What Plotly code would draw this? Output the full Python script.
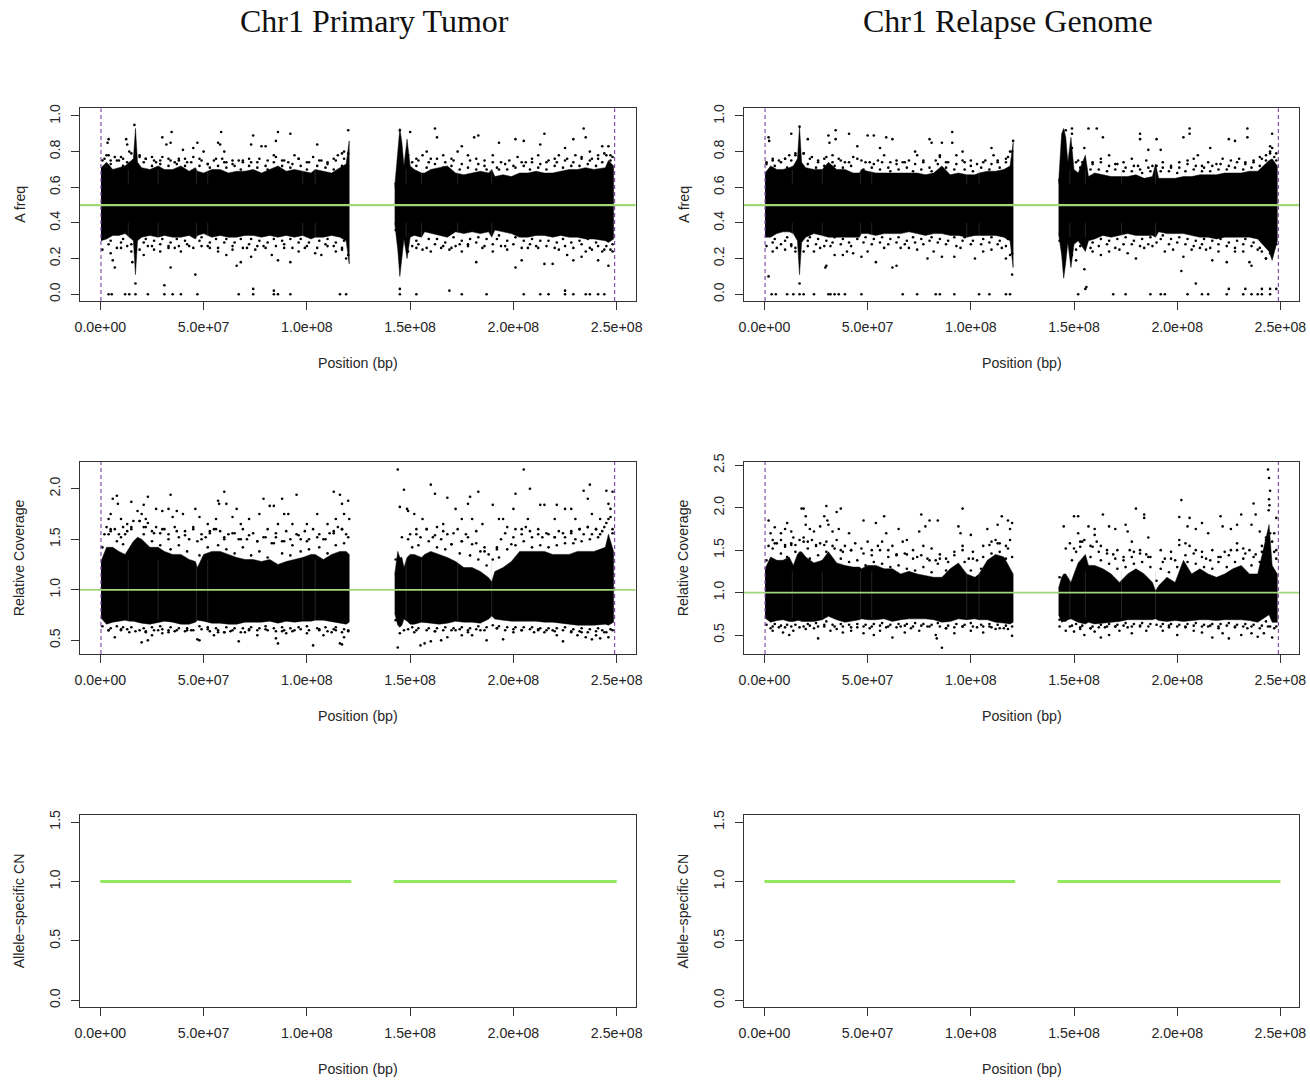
import plotly.graph_objects as go

W, H = 1310, 1081
POS1 = [0.3,3,6,9,12,14,16,17,18,20,24,28,31,35,39,43,46,47,50,54,58,62,66,70,74,78,82,86,90,94,98,102,104,108,112,116,119,120.5]
POS2 = [142.5,144,145,146,147,148.5,150,152,155.5,157,160,164,168,172,176,180,184,188,189.5,191,195,199,203,207,211,215,219,223,227,231,235,239,244.5,246,248.5]
POS = POS1 + POS2
N1 = len(POS1)

# edge of the black band at each POS (Mb)
afreq_tumor_hi = [.71,.74,.70,.71,.72,.74,.76,.93,.74,.71,.70,.72,.70,.70,.72,.69,.71,.69,.68,.70,.70,.68,.69,.69,.70,.68,.70,.72,.69,.70,.69,.68,.70,.69,.68,.71,.73,.86,
                  .60,.82,.93,.85,.72,.87,.72,.70,.68,.68,.70,.71,.72,.68,.67,.68,.69,.68,.70,.66,.67,.66,.68,.68,.69,.68,.68,.69,.70,.70,.71,.70,.71,.75,.72]
afreq_tumor_lo = [.30,.31,.33,.33,.34,.32,.30,.11,.30,.32,.33,.32,.33,.32,.32,.33,.31,.33,.34,.32,.33,.32,.32,.33,.33,.32,.33,.32,.33,.32,.33,.31,.32,.32,.33,.32,.30,.17,
                  .40,.25,.10,.22,.31,.20,.32,.33,.32,.35,.34,.33,.32,.35,.34,.35,.34,.35,.32,.36,.35,.34,.32,.32,.33,.33,.32,.33,.32,.32,.31,.31,.30,.29,.31]
afreq_relapse_hi = [.68,.72,.70,.70,.71,.72,.76,.94,.74,.71,.70,.70,.74,.70,.70,.68,.68,.70,.69,.68,.68,.68,.68,.68,.68,.67,.68,.72,.67,.68,.67,.67,.68,.69,.69,.70,.72,.85,
                    .62,.90,.93,.88,.74,.88,.70,.68,.78,.66,.68,.67,.66,.66,.66,.67,.65,.66,.73,.65,.65,.65,.66,.66,.67,.67,.67,.68,.68,.68,.69,.69,.75,.76,.72]
afreq_relapse_lo = [.32,.32,.34,.35,.35,.34,.30,.11,.29,.32,.34,.33,.32,.32,.32,.32,.32,.34,.34,.33,.34,.34,.34,.35,.34,.33,.34,.34,.33,.33,.32,.33,.33,.33,.33,.32,.30,.15,
                    .34,.22,.09,.18,.29,.15,.28,.30,.24,.30,.31,.33,.32,.33,.34,.33,.33,.33,.32,.35,.34,.34,.34,.33,.32,.32,.31,.32,.32,.32,.32,.31,.24,.19,.30]
cov_tumor_hi = [1.28,1.42,1.42,1.38,1.35,1.42,1.48,1.50,1.52,1.50,1.42,1.42,1.38,1.35,1.35,1.30,1.28,1.22,1.35,1.38,1.38,1.35,1.32,1.30,1.30,1.28,1.30,1.25,1.28,1.30,1.32,1.35,1.35,1.30,1.35,1.38,1.38,1.35,
                1.15,1.38,1.32,1.32,1.22,1.32,1.35,1.35,1.32,1.35,1.38,1.35,1.32,1.28,1.22,1.22,1.18,1.12,1.08,1.18,1.22,1.28,1.38,1.38,1.38,1.38,1.35,1.35,1.35,1.38,1.38,1.38,1.42,1.55,1.38]
cov_tumor_lo = [.72,.66,.68,.69,.70,.69,.69,.69,.68,.67,.66,.68,.69,.68,.66,.66,.68,.70,.69,.67,.67,.66,.66,.68,.68,.68,.69,.67,.69,.68,.69,.69,.70,.70,.68,.67,.66,.68,
                .77,.65,.63,.65,.71,.69,.66,.66,.68,.68,.67,.66,.67,.69,.68,.68,.67,.71,.74,.71,.70,.69,.69,.69,.69,.68,.68,.67,.66,.65,.65,.65,.66,.65,.68]
cov_relapse_hi = [1.28,1.42,1.38,1.38,1.42,1.32,1.45,1.48,1.48,1.42,1.35,1.38,1.48,1.35,1.32,1.30,1.30,1.28,1.32,1.32,1.28,1.28,1.22,1.25,1.22,1.20,1.18,1.18,1.28,1.35,1.22,1.18,1.22,1.38,1.45,1.42,1.28,1.22,
                  1.05,1.18,1.22,1.22,1.18,1.12,1.22,1.35,1.45,1.32,1.32,1.28,1.22,1.12,1.22,1.28,1.22,1.12,1.02,1.08,1.18,1.12,1.38,1.22,1.28,1.22,1.18,1.22,1.28,1.32,1.22,1.22,1.80,1.32,1.22]
cov_relapse_lo = [.70,.65,.67,.68,.66,.66,.67,.67,.66,.66,.66,.68,.72,.68,.65,.67,.68,.69,.68,.68,.69,.66,.68,.69,.69,.69,.68,.65,.66,.69,.68,.69,.68,.68,.65,.64,.63,.65,
                  .74,.65,.66,.66,.68,.69,.67,.65,.63,.65,.63,.64,.65,.66,.68,.68,.68,.68,.69,.67,.66,.67,.66,.67,.68,.68,.67,.68,.68,.68,.67,.65,.74,.65,.65]

# pale vertical streaks in the band (Mb)
streak_pos = [13.5,28,46.5,52,98,104,148,155.5,173,189.5]

# speckle just outside the band: shared positions (Mb), then values read per panel
EDGE_X = [1,4,5,8,10,11,13,15,19,21,22,25,26,29,30,33,34,37,38,41,42,45,48,49,52,53,56,57,60,61,64,65,68,69,72,73,76,77,80,81,84,85,88,89,92,93,96,97,100,101,105,106,109,110,113,114,117,118,120,
          143,149,151,153,154,158,159,162,163,166,167,170,171,174,175,178,179,182,183,186,187,190,192,193,196,197,200,201,204,205,208,209,212,213,216,217,220,221,224,225,228,229,232,233,236,237,240,241,243,245,247,248]
afreq_tumor_edge_hi = [.75,.78,.73,.75,.77,.72,.74,.79,.77,.74,.76,.72,.75,.73,.77,.72,.75,.73,.76,.72,.74,.77,.72,.75,.73,.71,.76,.72,.74,.71,.75,.72,.70,.75,.72,.74,.71,.76,.72,.70,.74,.77,.72,.75,.71,.73,.76,.72,.70,.74,.72,.75,.71,.73,.70,.75,.72,.76,.79,
                       .62,.78,.74,.72,.75,.71,.74,.73,.76,.71,.74,.72,.75,.70,.73,.71,.75,.70,.73,.72,.70,.74,.71,.70,.73,.70,.72,.71,.74,.72,.70,.74,.71,.73,.70,.75,.72,.74,.71,.75,.72,.74,.72,.76,.73,.75,.72,.76,.74,.78,.75,.77]
afreq_tumor_edge_lo = [.25,.28,.30,.26,.29,.31,.27,.28,.25,.29,.31,.27,.30,.28,.31,.26,.29,.31,.27,.30,.28,.26,.30,.32,.27,.29,.31,.26,.29,.31,.27,.29,.31,.26,.28,.31,.27,.30,.26,.29,.31,.27,.30,.28,.31,.26,.29,.31,.27,.29,.26,.30,.28,.31,.27,.29,.26,.30,.22,
                       .36,.24,.27,.30,.28,.26,.31,.28,.31,.27,.29,.26,.32,.28,.30,.27,.31,.29,.32,.27,.31,.28,.31,.33,.27,.30,.28,.32,.26,.30,.28,.31,.26,.30,.27,.30,.26,.29,.31,.27,.29,.26,.30,.28,.31,.26,.29,.27,.24,.27,.25,.28]
afreq_relapse_edge_hi = [.73,.75,.72,.74,.76,.71,.75,.78,.79,.73,.76,.71,.74,.72,.77,.74,.72,.75,.71,.74,.72,.76,.70,.74,.71,.73,.70,.74,.71,.69,.73,.70,.74,.71,.69,.73,.70,.75,.71,.69,.73,.77,.71,.74,.70,.73,.75,.70,.72,.69,.71,.74,.70,.73,.75,.71,.74,.77,.80,
                         .64,.82,.74,.71,.74,.70,.73,.70,.74,.69,.72,.70,.73,.69,.71,.69,.72,.70,.68,.71,.69,.72,.69,.71,.69,.71,.68,.71,.69,.73,.70,.72,.69,.71,.69,.72,.70,.73,.70,.72,.71,.74,.70,.73,.71,.74,.72,.76,.75,.79,.77,.75]
afreq_relapse_edge_lo = [.27,.29,.31,.28,.30,.32,.28,.26,.24,.30,.32,.28,.31,.27,.30,.29,.32,.28,.31,.29,.27,.31,.29,.32,.28,.31,.29,.32,.28,.31,.29,.32,.28,.30,.32,.29,.31,.28,.30,.32,.29,.31,.28,.30,.32,.27,.30,.32,.28,.30,.28,.31,.29,.32,.28,.30,.27,.31,.23,
                         .30,.22,.25,.27,.29,.26,.29,.27,.31,.28,.30,.26,.31,.28,.32,.28,.30,.27,.31,.28,.32,.29,.31,.33,.28,.31,.29,.32,.28,.31,.27,.30,.28,.31,.26,.30,.28,.31,.27,.29,.26,.30,.28,.31,.27,.29,.26,.24,.20,.23,.26,.28]
cov_tumor_edge_hi = [1.42,1.55,1.60,1.48,1.52,1.45,1.58,1.62,1.68,1.55,1.62,1.48,1.56,1.44,1.60,1.50,1.40,1.58,1.44,1.54,1.38,1.60,1.34,1.50,1.42,1.56,1.60,1.44,1.52,1.40,1.56,1.36,1.50,1.42,1.54,1.34,1.48,1.38,1.52,1.32,1.46,1.56,1.36,1.48,1.34,1.44,1.54,1.38,1.48,1.40,1.52,1.42,1.50,1.36,1.56,1.44,1.60,1.46,1.52,
                     1.30,1.50,1.42,1.55,1.44,1.60,1.48,1.54,1.42,1.58,1.40,1.45,1.56,1.36,1.48,1.52,1.34,1.46,1.30,1.38,1.24,1.30,1.42,1.32,1.56,1.40,1.52,1.44,1.60,1.48,1.58,1.42,1.55,1.44,1.56,1.42,1.52,1.44,1.56,1.46,1.58,1.46,1.60,1.48,1.62,1.50,1.60,1.52,1.58,1.66,1.72,1.56]
cov_tumor_edge_lo = [.64,.60,.62,.64,.60,.63,.61,.63,.60,.62,.59,.63,.60,.64,.61,.58,.63,.60,.62,.59,.62,.60,.64,.61,.63,.59,.62,.60,.58,.63,.60,.62,.58,.62,.61,.63,.60,.62,.64,.60,.62,.59,.63,.60,.62,.59,.63,.61,.64,.60,.62,.60,.63,.59,.61,.63,.58,.61,.60,
                     .70,.61,.63,.60,.62,.60,.62,.59,.62,.60,.63,.60,.62,.61,.63,.60,.62,.61,.64,.60,.63,.65,.62,.64,.60,.63,.61,.63,.60,.63,.61,.63,.60,.62,.60,.62,.59,.62,.60,.63,.58,.61,.59,.62,.58,.61,.59,.62,.60,.58,.61,.60]
cov_relapse_edge_hi = [1.38,1.52,1.58,1.46,1.54,1.42,1.56,1.48,1.60,1.52,1.40,1.55,1.44,1.56,1.48,1.38,1.52,1.40,1.48,1.36,1.50,1.38,1.46,1.32,1.44,1.36,1.50,1.34,1.42,1.30,1.44,1.32,1.46,1.28,1.40,1.26,1.44,1.30,1.38,1.24,1.34,1.40,1.26,1.36,1.44,1.30,1.50,1.36,1.26,1.40,1.28,1.42,1.56,1.46,1.58,1.48,1.40,1.52,1.42,
                       1.18,1.38,1.48,1.54,1.60,1.42,1.54,1.48,1.38,1.46,1.34,1.40,1.28,1.38,1.30,1.42,1.34,1.46,1.36,1.42,1.30,1.14,1.28,1.36,1.24,1.40,1.30,1.56,1.44,1.36,1.46,1.34,1.42,1.30,1.38,1.28,1.36,1.42,1.30,1.44,1.36,1.50,1.40,1.46,1.32,1.42,1.36,1.48,1.62,1.70,1.48,1.40]
cov_relapse_edge_lo = [.62,.60,.63,.61,.59,.62,.60,.62,.60,.63,.61,.64,.60,.62,.66,.62,.60,.63,.60,.62,.59,.63,.60,.62,.60,.63,.61,.64,.60,.62,.59,.63,.61,.63,.60,.64,.61,.63,.60,.62,.64,.60,.58,.61,.59,.63,.60,.62,.64,.60,.62,.60,.63,.59,.62,.58,.61,.57,.60,
                       .68,.61,.63,.59,.61,.58,.60,.59,.62,.60,.63,.60,.62,.61,.64,.60,.63,.61,.64,.60,.63,.62,.60,.63,.61,.63,.60,.62,.60,.63,.61,.64,.60,.62,.61,.63,.60,.63,.61,.64,.60,.62,.60,.63,.60,.62,.58,.61,.66,.60,.58,.60]

# individually visible points (Mb, value)
afreq_tumor_dots = [(3,.78),(3.5,.85),(4,.87),(12.5,.87),(13,.84),(14,.80),(16.5,.95),(30,.88),(32,.84),(34,.85),(34.5,.91),(40,.81),(45,.82),(47,.85),(50,.80),(57,.85),(58,.84),(58.5,.91),(60,.80),(74,.89),(73,.84),(78,.83),(80,.83),(85,.86),(86,.91),(92,.90),(94,.78),(105,.84),(120,.92),(118,.80),(145,.92),(150,.91),(162,.93),(163,.88),(158,.80),(175,.83),(183,.89),(181,.88),(193,.85),(201,.87),(205,.86),(213,.84),(215,.90),(225,.82),(229,.87),(234,.93),(235,.88),(237,.80),(243,.83),(246,.83),
(2,.76),(5,.75),(7,.77),(9,.75),(11,.76),(19,.78),(22,.76),(25,.77),(27,.74),(29,.75),(33,.76),(36,.74),(38,.75),(41,.76),(44,.74),(48,.76),(52,.73),(55,.75),(59,.76),(61,.74),(64,.73),(67,.75),(69,.74),(72,.76),(76,.74),(81,.75),(84,.78),(88,.75),(91,.74),(96,.76),(100,.74),(103,.77),(107,.75),(110,.74),(113,.76),(115,.78),(117,.79),(153,.76),(156,.78),(160,.76),(166,.78),(170,.76),(173,.80),(178,.78),(182,.76),(186,.75),(190,.78),(194,.74),(198,.75),(202,.77),(206,.74),(209,.76),(212,.78),(216,.74),(220,.76),(222,.78),(226,.76),(230,.78),(233,.77),(238,.76),(241,.78),(244,.79),(247,.78),
(5,.23),(6,.19),(7,.15),(10,.26),(15,.24),(15.5,.18),(21,.22),(23,.27),(26,.25),(29,.24),(33,.27),(34,.15),(36,.26),(39,.24),(43,.27),(46,.11),(49,.27),(53,.26),(57,.24),(61,.22),(64,.25),(66,.16),(68,.18),(71,.26),(73,.21),(75,.25),(79,.27),(83,.22),(86,.19),(89,.26),(92,.18),(96,.24),(99,.26),(104,.23),(107,.22),(110,.27),(114,.24),(117,.25),(119,.20),(153,.26),(156,.25),(160,.24),(165,.26),(169,.25),(172,.27),(175,.24),(178,.28),(182,.18),(185,.26),(190,.24),(194,.27),(197,.25),(201,.15),(204,.19),(207,.26),(211,.27),(215,.17),(219,.17),(222,.25),(226,.22),(229,.19),(233,.21),(235,.24),(238,.25),(241,.19),(244,.25),(246,.16),(248,.24),
(17,.06),(31,.05),(74,.03),(84,.02),(145,.03),(169,.02),(225,.02),
(4,0),(5.5,0),(12,0),(14,0),(17,0),(23,0),(31,0),(35,0),(39,0),(47,0),(67,0),(74,0),(84,0),(86,0),(92,0),(116,0),(119,0),(145,0),(153,0),(175,0),(187,0),(205,0),(213,0),(217,0),(225,0),(229,0),(235,0),(237,0),(241,0),(244,0)]

afreq_relapse_dots = [(2,.88),(2.3,.86),(13,.90),(17,.94),(21,.87),(31,.89),(31.5,.85),(34.5,.87),(34.5,.92),(41,.90),(45,.83),(50,.89),(53,.89),(59,.88),(62,.87),(56,.82),(73,.80),(80,.87),(81,.85),(86,.85),(91,.85),(91,.91),(96,.80),(110,.82),(120.5,.86),(146,.92),(149,.93),(149,.90),(157,.93),(161,.93),(164,.88),(182,.90),(182,.87),(186,.81),(190,.87),(192,.81),(203,.88),(206,.90),(206,.93),(210,.78),(216,.82),(225,.87),(228,.86),(234,.93),(234,.88),(245,.83),(246,.82),(245,.80),(246,.90),
(1,.74),(4,.76),(7,.75),(10,.76),(12,.78),(15,.79),(19,.79),(23,.77),(26,.75),(29,.76),(33,.78),(36,.76),(39,.74),(43,.77),(47,.75),(51,.74),(55,.75),(58,.78),(61,.74),(64,.75),(67,.74),(70,.75),(74,.78),(77,.74),(83,.75),(85,.78),(88,.74),(93,.78),(97,.74),(100,.75),(103,.73),(107,.75),(111,.78),(113,.74),(117,.76),(119,.80),(152,.75),(155,.82),(159,.74),(163,.76),(167,.78),(170,.73),(174,.74),(178,.76),(181,.72),(185,.75),(188,.72),(193,.74),(197,.72),(201,.74),(205,.75),(208,.76),(212,.72),(215,.74),(219,.73),(222,.76),(226,.75),(230,.76),(233,.74),(237,.75),(240,.77),(243,.78),(248,.79),
(2,.10),(4,.24),(6,.26),(10,.25),(13,.27),(15,.24),(17,.06),(21,.27),(24,.24),(27,.26),(29.5,.15),(30,.16),(32,.27),(34,.22),(38,.22),(40,.24),(43,.23),(47,.21),(50,.24),(54,.18),(58,.26),(62,.15),(64,.16),(66,.26),(70,.26),(74,.25),(79,.20),(82,.24),(86,.21),(92,.21),(95,.26),(102,.20),(106,.24),(110,.25),(115,.26),(117,.20),(119,.22),(120,.11),(151,.19),(155,.14),(156,.04),(155.5,.03),(159,.24),(163,.22),(167,.24),(172,.25),(176,.23),(180,.20),(184,.26),(188,.27),(194,.24),(198,.25),(202,.13),(203,.21),(207,.25),(211,.26),(214,.25),(217,.19),(220,.24),(224,.18),(228,.24),(232,.24),(235,.18),(236,.16),(239,.25),(243,.20),
(17,.0),(3.5,0),(5.5,0),(11,0),(14,0),(19,0),(24,0),(31,0),(32,0),(34,0),(36,0),(39,0),(47,0),(67,0),(74,0),(83,0),(85,0),(92,0),(104,0),(109,0),(117,0),(119,0),(152,0),(169,0),(175,0),(187,0),(192,0),(194,0),(205,0),(212,0),(215,0),(224,0),(232,0),(236,0),(239,0),(241,0),(245,0),(225,.03),(233,.03),(241,.03),(245,.03),(248,.03),(209,.06)]

cov_tumor_dots = [(4,1.70),(5,1.75),(6,1.90),(8,1.93),(8.5,1.85),(10,1.70),(15,1.87),(13,1.65),(18,1.78),(20,1.75),(21,1.84),(22,1.70),(23,1.92),(27,1.80),(30,1.78),(33,1.80),(34,1.94),(35,1.72),(37,1.78),(40,1.75),(46,1.80),(48,1.72),(52,1.65),(56,1.70),(57,1.88),(57.5,1.85),(60,1.97),(61,1.85),(64,1.72),(66,1.80),(68,1.65),(72,1.70),(79,1.90),(77,1.75),(82,1.83),(84,1.83),(86,1.65),(88,1.90),(89,1.75),(91,1.75),(95,1.94),(93,1.65),(100,1.65),(105,1.75),(103,1.60),(113,1.97),(116,1.94),(114,1.70),(117,1.85),(118,1.75),(120,1.88),(120.5,1.70),(110,1.65),
(144,2.19),(145,1.82),(147,1.99),(149,1.78),(148.5,1.80),(152,1.75),(156,1.70),(160,2.04),(162,1.95),(166,1.65),(168,1.91),(172,1.80),(175,1.70),(178,1.85),(180,1.70),(179,1.92),(183,1.97),(185,1.65),(190,1.84),(193,1.70),(195,1.70),(201,1.95),(200,1.80),(205,2.19),(208,2.00),(207,1.70),(213,1.84),(215,1.84),(220,1.70),(221,1.84),(225,1.80),(228,1.80),(230,1.70),(234,1.98),(236,1.90),(237,2.04),(238,1.75),(242,1.70),(245,1.98),(246,1.85),(248,1.97),(247,1.80),
(2,1.55),(3,1.62),(5,1.58),(7,1.60),(9,1.55),(11,1.62),(12,1.55),(15,1.60),(16,1.68),(19,1.68),(21,1.62),(23,1.66),(25,1.58),(27,1.62),(29,1.56),(31,1.60),(33,1.55),(36,1.62),(38,1.52),(41,1.58),(43,1.50),(45,1.62),(47,1.48),(49,1.55),(51,1.52),(53,1.58),(55,1.60),(58,1.58),(60,1.50),(62,1.55),(65,1.56),(67,1.50),(69,1.60),(71,1.50),(74,1.56),(76,1.48),(79,1.52),(81,1.60),(83,1.46),(85,1.52),(88,1.48),(90,1.58),(92,1.50),(95,1.55),(97,1.50),(99,1.58),(101,1.50),(106,1.55),(108,1.50),(111,1.56),(113,1.58),(115,1.62),(117,1.60),(119,1.55),
(146,1.52),(150,1.55),(153,1.60),(155,1.52),(158,1.60),(161,1.52),(163,1.62),(165,1.50),(168,1.55),(170,1.45),(173,1.60),(175,1.48),(177,1.55),(180,1.45),(182,1.58),(184,1.38),(186,1.42),(188,1.35),(192,1.40),(194,1.50),(197,1.62),(199,1.45),(201,1.60),(204,1.55),(206,1.62),(209,1.52),(212,1.60),(214,1.52),(217,1.55),(220,1.52),(222,1.58),(225,1.52),(228,1.56),(230,1.50),(232,1.60),(234,1.55),(236,1.62),(238,1.55),(240,1.60),(242,1.55),(244,1.62),(246,1.70),(248,1.60),
(7,.53),(14,.58),(20,.48),(23,.50),(25,.55),(33,.60),(42,.60),(47,.51),(48,.50),(55,.55),(60,.58),(67,.49),(70,.58),(76,.55),(86,.47),(85,.52),(90,.57),(103,.45),(100,.57),(108,.55),(116,.47),(117,.46),(118,.53),(112,.58),(144,.43),(145,.57),(155,.45),(157,.47),(160,.49),(165,.50),(168,.53),(175,.55),(180,.55),(187,.50),(195,.51),(200,.58),(210,.58),(215,.58),(224,.49),(221,.55),(231,.55),(235,.53),(238,.51),(242,.52),(246,.53),(240,.55),
(4,.60),(10,.61),(17,.59),(22,.58),(28,.60),(30,.57),(36,.59),(44,.60),(52,.61),(57,.58),(63,.59),(72,.60),(80,.61),(88,.59),(94,.60),(106,.61),(114,.60),(120,.59),(147,.60),(152,.58),(162,.59),(172,.60),(178,.58),(184,.60),(192,.62),(204,.60),(212,.61),(219,.60),(228,.59),(233,.58),(244,.58)]

cov_relapse_dots = [(2,1.85),(3,1.70),(5,1.77),(8,1.70),(10,1.75),(11,1.82),(13,1.72),(14,1.65),(18,1.99),(19,1.99),(20,1.90),(20,1.80),(22,1.75),(24,1.72),(27,1.78),(29,1.90),(30,2.02),(30.5,1.85),(31,1.80),(33,1.72),(35,1.95),(37,1.99),(36,1.75),(41,1.70),(48,1.85),(54,1.82),(58,1.90),(59,1.70),(65,1.75),(69,1.62),(76,1.92),(75,1.72),(80,1.85),(84,1.85),(78,1.78),(94,1.78),(96,1.99),(95,1.70),(100,1.68),(108,1.75),(113,1.80),(115,1.90),(118,1.85),(120,1.82),(119,1.75),
(145,1.78),(150,1.90),(152,1.90),(152,1.70),(157,1.78),(160,1.75),(160,1.68),(164,1.92),(167,1.78),(170,1.75),(175,1.80),(176,1.72),(180,1.99),(184,1.92),(184,1.88),(178,1.60),(186,1.65),(202,2.09),(201,1.89),(205,1.78),(206,1.88),(209,1.75),(212,1.82),(215,1.70),(221,1.90),(222,1.78),(226,1.75),(229,1.80),(231,1.92),(236,1.80),(237,2.05),(238,1.92),(240,1.72),(244,2.45),(244.5,2.35),(245,2.20),(244.5,2.10),(244.7,2.03),(244.3,1.97),(248,1.88),(247,1.70),
(2,1.55),(4,1.62),(6,1.58),(8,1.62),(10,1.56),(13,1.58),(15,1.56),(17,1.62),(19,1.65),(21,1.60),(23,1.62),(25,1.56),(27,1.58),(30,1.60),(33,1.55),(35,1.62),(37,1.50),(39,1.55),(42,1.50),(44,1.58),(47,1.52),(50,1.60),(52,1.50),(55,1.55),(57,1.60),(60,1.50),(62,1.55),(64,1.45),(67,1.60),(69,1.45),(72,1.50),(74,1.42),(77,1.55),(79,1.40),(81,1.52),(83,1.38),(85,1.45),(88,1.40),(92,1.48),(96,1.55),(99,1.40),(101,1.48),(103,1.38),(106,1.55),(110,1.60),(112,1.62),(114,1.58),(117,1.55),(119,1.62),
(146,1.52),(148,1.58),(150,1.52),(153,1.60),(155,1.62),(158,1.55),(161,1.60),(163,1.55),(166,1.50),(169,1.45),(171,1.50),(174,1.42),(177,1.50),(179,1.48),(182,1.50),(185,1.45),(187,1.42),(192,1.50),(194,1.40),(197,1.48),(199,1.38),(201,1.62),(204,1.58),(206,1.55),(209,1.50),(212,1.48),(214,1.40),(217,1.50),(220,1.42),(223,1.48),(226,1.50),(229,1.58),(232,1.52),(235,1.50),(238,1.45),(241,1.55),(243,1.65),(246,1.60),(248,1.50),
(4,.55),(9,.53),(12,.50),(14,.55),(20,.57),(26,.46),(32,.55),(38,.53),(42,.55),(48,.52),(53,.50),(56,.55),(62,.47),(68,.53),(75,.55),(83,.50),(83.5,.46),(86,.35),(92,.52),(100,.55),(106,.53),(112,.57),(120,.49),(143,.60),(146,.55),(150,.54),(155,.50),(160,.54),(163,.47),(167,.50),(172,.55),(178,.52),(185,.55),(193,.55),(200,.50),(208,.55),(212,.53),(217,.47),(222,.52),(225,.46),(231,.50),(236,.52),(239,.48),(246,.47),(242,.52),
(3,.58),(7,.59),(17,.59),(24,.58),(29,.60),(35,.57),(45,.59),(51,.58),(59,.59),(66,.60),(71,.58),(79,.60),(88,.58),(96,.60),(103,.59),(109,.60),(116,.58),(148,.60),(153,.57),(158,.58),(165,.59),(170,.60),(176,.59),(182,.60),(196,.59),(204,.59),(215,.60),(220,.58),(228,.59),(234,.58),(244,.60)]

chrom_start = [0.0, 142.0]
chrom_end = [121.5, 250.0]
cn_tumor = [1.0, 1.0]
cn_relapse = [1.0, 1.0]
centromere_edges = [0.3, 249.0]
title_texts = ["Chr1 Primary Tumor", "Chr1 Relapse Genome"]
xticks = [0, 5e7, 1e8, 1.5e8, 2e8, 2.5e8]
xticktext = ["0.0e+00", "5.0e+07", "1.0e+08", "1.5e+08", "2.0e+08", "2.5e+08"]

A_T = [0, .2, .4, .6, .8, 1]
panels = [
    dict(col=0, top=108.3, bot=301, yr=[-.038, 1.043], yt=A_T, yl="A freq", ref=.5, hi=afreq_tumor_hi, lo=afreq_tumor_lo, ehi=afreq_tumor_edge_hi, elo=afreq_tumor_edge_lo, dots=afreq_tumor_dots, lw=2.2, xlab=363, streak=[(.62,.70),(.32,.40)]),
    dict(col=1, top=108.3, bot=301, yr=[-.038, 1.043], yt=A_T, yl="A freq", ref=.5, hi=afreq_relapse_hi, lo=afreq_relapse_lo, ehi=afreq_relapse_edge_hi, elo=afreq_relapse_edge_lo, dots=afreq_relapse_dots, lw=2.2, xlab=363, streak=[(.62,.70),(.32,.40)]),
    dict(col=0, top=462, bot=654, yr=[.365, 2.264], yt=[.5, 1, 1.5, 2], yl="Relative Coverage", ref=1, hi=cov_tumor_hi, lo=cov_tumor_lo, ehi=cov_tumor_edge_hi, elo=cov_tumor_edge_lo, dots=cov_tumor_dots, lw=1.8, xlab=716, streak=[(.70,1.30)]),
    dict(col=1, top=462, bot=654, yr=[.276, 2.539], yt=[.5, 1, 1.5, 2, 2.5], yl="Relative Coverage", ref=1, hi=cov_relapse_hi, lo=cov_relapse_lo, ehi=cov_relapse_edge_hi, elo=cov_relapse_edge_lo, dots=cov_relapse_dots, lw=1.8, xlab=716, streak=[(.70,1.25)]),
    dict(col=0, top=815, bot=1007.3, yr=[-.0588, 1.559], yt=[0, .5, 1, 1.5], yl="Allele\u2212specific CN", cn=cn_tumor, xlab=1069),
    dict(col=1, top=815, bot=1007.3, yr=[-.0588, 1.559], yt=[0, .5, 1, 1.5], yl="Allele\u2212specific CN", cn=cn_relapse, xlab=1069),
]
col_x = [(79.7, 635.7), (743.8, 1299.4)]
XR = [-1.0e7, 2.592e8]
FONT = "Liberation Sans"
TXT = "#262626"
FS = 14.2

fig = go.Figure()
layout = dict(width=W, height=H, margin=dict(l=0, r=0, t=0, b=0), showlegend=False, autosize=False,
              plot_bgcolor="white", paper_bgcolor="white", annotations=[], shapes=[],
              font=dict(family=FONT, size=FS, color=TXT))

for i, p in enumerate(panels):
    n = "" if i == 0 else str(i + 1)
    xa, ya = "x" + n, "y" + n
    x0, x1 = col_x[p["col"]]
    layout["xaxis" + n] = dict(domain=[x0 / W, x1 / W], range=XR, anchor=ya, showgrid=False, zeroline=False, automargin=False,
                               showline=True, mirror=True, linecolor="#333", linewidth=1.2, ticks="outside",
                               ticklen=8, tickcolor="#333", tickvals=xticks, ticktext=xticktext, ticklabelstandoff=5,
                               tickfont=dict(size=FS, family=FONT, color=TXT))
    layout["yaxis" + n] = dict(domain=[1 - p["bot"] / H, 1 - p["top"] / H], range=p["yr"], anchor=xa, showgrid=False, automargin=False,
                               zeroline=False, showline=True, mirror=True, linecolor="#333", linewidth=1.2,
                               ticks="outside", ticklen=8, tickcolor="#333", tickvals=p["yt"], ticklabelstandoff=5,
                               ticktext=["%.1f" % v for v in p["yt"]], tickangle=-90,
                               tickfont=dict(size=FS, family=FONT, color=TXT))
    layout["annotations"].append(dict(x=(x0 + x1) / 2 / W, y=1 - p["xlab"] / H, xref="paper", yref="paper", xanchor="center", yanchor="middle",
                                      text="Position (bp)", showarrow=False, font=dict(size=FS, family=FONT, color=TXT)))
    layout["annotations"].append(dict(x=(x0 - 60.5) / W, y=1 - (p["top"] + p["bot"]) / 2 / H, xref="paper", yref="paper", xanchor="center", yanchor="middle",
                                      text=p["yl"], textangle=-90, showarrow=False, font=dict(size=FS, family=FONT, color=TXT)))
    if "cn" in p:
        for s, e, c in zip(chrom_start, chrom_end, p["cn"]):
            fig.add_trace(go.Scatter(x=[s * 1e6, e * 1e6], y=[c, c], mode="lines", xaxis=xa, yaxis=ya,
                                     line=dict(color="#92E85E", width=3), hoverinfo="skip"))
        continue
    for a, b in ((0, N1), (N1, len(POS))):
        mb = [v * 1e6 for v in POS[a:b]]
        fig.add_trace(go.Scatter(x=mb + mb[::-1], y=p["hi"][a:b] + p["lo"][a:b][::-1], mode="lines", fill="toself",
                                 fillcolor="black", line=dict(width=0.5, color="black"), xaxis=xa, yaxis=ya, hoverinfo="skip"))
    for s in streak_pos:
        for lo_, hi_ in p["streak"]:
            fig.add_trace(go.Scatter(x=[s * 1e6, s * 1e6], y=[lo_, hi_], mode="lines", xaxis=xa, yaxis=ya, opacity=.3,
                                     line=dict(color="#9a9a9a", width=.8), hoverinfo="skip"))
    dx = [d[0] * 1e6 for d in p["dots"]] + [v * 1e6 for v in EDGE_X] * 2
    dy = [d[1] for d in p["dots"]] + p["ehi"] + p["elo"]
    fig.add_trace(go.Scatter(x=dx, y=dy, mode="markers", marker=dict(color="black", size=2.6, line=dict(width=0)),
                             xaxis=xa, yaxis=ya, hoverinfo="skip"))
    for c in centromere_edges:
        fig.add_trace(go.Scatter(x=[c * 1e6, c * 1e6], y=p["yr"], mode="lines", xaxis=xa, yaxis=ya,
                                 line=dict(color="#7B3FA8", width=1.1, dash="4px,3px"), hoverinfo="skip"))
    fig.add_trace(go.Scatter(x=XR, y=[p["ref"], p["ref"]], mode="lines", xaxis=xa, yaxis=ya,
                             line=dict(color="#A0D878", width=p["lw"]), hoverinfo="skip"))

for txt, cx in zip(title_texts, (375, 1008)):
    layout["annotations"].append(dict(x=cx / W, y=1 - 21 / H, xref="paper", yref="paper", xanchor="center", yanchor="middle",
                                      text=txt, showarrow=False, font=dict(family="Liberation Serif", size=32, color="#111")))

fig.update_layout(**layout)
fig.write_html("out.html", config=dict(displayModeBar=False),
               post_script="document.body.style.margin='0';document.documentElement.style.overflow='hidden';")
